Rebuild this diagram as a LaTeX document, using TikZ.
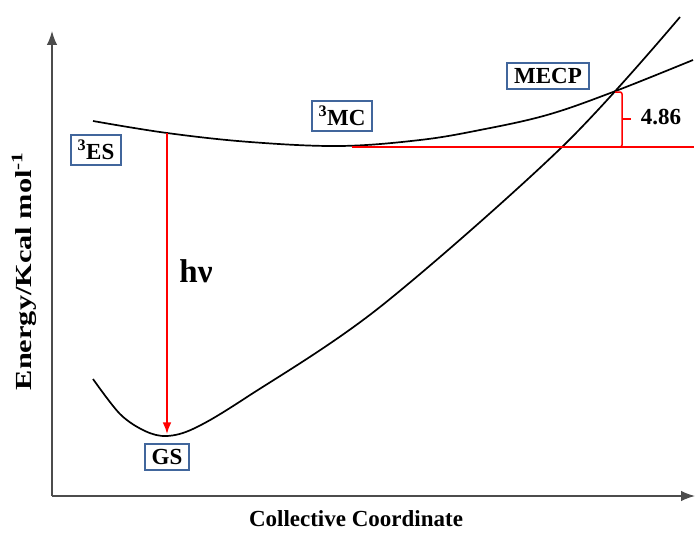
\documentclass[tikz,border=0pt]{standalone}
\usepackage{fontspec}
\setmainfont{Liberation Serif}
\usetikzlibrary{arrows.meta, positioning}

\definecolor{boxblue}{HTML}{41669C}

\begin{document}
\begin{tikzpicture}[
        x = 1pt, y = -1pt,
        >= {Latex[scale = 1.2]},
        state/.style = {draw = boxblue, line width = 2pt, fill = white,
                        inner xsep = 7pt, inner ysep = 5.5pt,
                        font = \fontsize{23}{23}\selectfont\bfseries},
        title/.style = {font = \fontsize{23}{23}\selectfont\bfseries},
        curve/.style = {line width = 1.7pt, black},
        red line/.style = {line width = 1.5pt, red},
        axis/.style = {line width = 1.4pt, black!70, -{Latex[scale = 1.5]}}
    ]

      \useasboundingbox (0,0) rectangle (699,533);

      % axes
      \coordinate (origin) at (52,496);
      \coordinate (ytop) at (52,31);
      \coordinate (xend) at (695,496);
      \draw[axis] (origin) -- (ytop);
      \draw[axis] (origin) -- (xend);

      \node[title] (xlabel) at (356,519) {Collective Coordinate};
      \node[title, rotate = 90] (ylabel) at (24,271)
            {\scalebox{1.32}[1]{Energy/Kcal mol\textsuperscript{-1}}};

      % triplet surface
      \draw[curve] plot[smooth, tension = 0.6] coordinates {
            (93,121) (167,133) (250,142) (340,146) (420,140)
            (480,130) (547,115) (613,92) (693,60)};

      % ground state surface
      \draw[curve] plot[smooth, tension = 0.55] coordinates {
            (93,379) (120,414) (145,431) (167,436) (195,428)
            (247,397) (380,307) (562,147) (680,17)};

      \coordinate (es) at (167,133);
      \coordinate (gs) at (167,434);
      \coordinate (mc) at (352,147);
      \coordinate (mecp) at (622,92);
      \coordinate (lvl) at (622,147);
      \coordinate (redend) at (694,147);

      % vertical excitation and energy gap
      \draw[red line, ->] (es) -- (gs);
      \draw[red line] (mc) -- (redend);
      \draw[red line, rounded corners = 2pt]
            (615,92) -- (mecp) -- (lvl) -- (615,147);
      \draw[red line] (622,119) -- (631,119);

      \node[title] (gap) at (661,117) {4.86};
      \node[font = \fontsize{33}{33}\selectfont\bfseries] (hnu) at (196,271) {hν};

      % state labels
      \node[state] (s_es) at (96,150) {\textsuperscript{3}ES};
      \node[state] (s_mc) at (342,116) {\textsuperscript{3}MC};
      \node[state] (s_mecp) at (548,76) {MECP};
      \node[state] (s_gs) at (167,457) {GS};

\end{tikzpicture}
\end{document}
